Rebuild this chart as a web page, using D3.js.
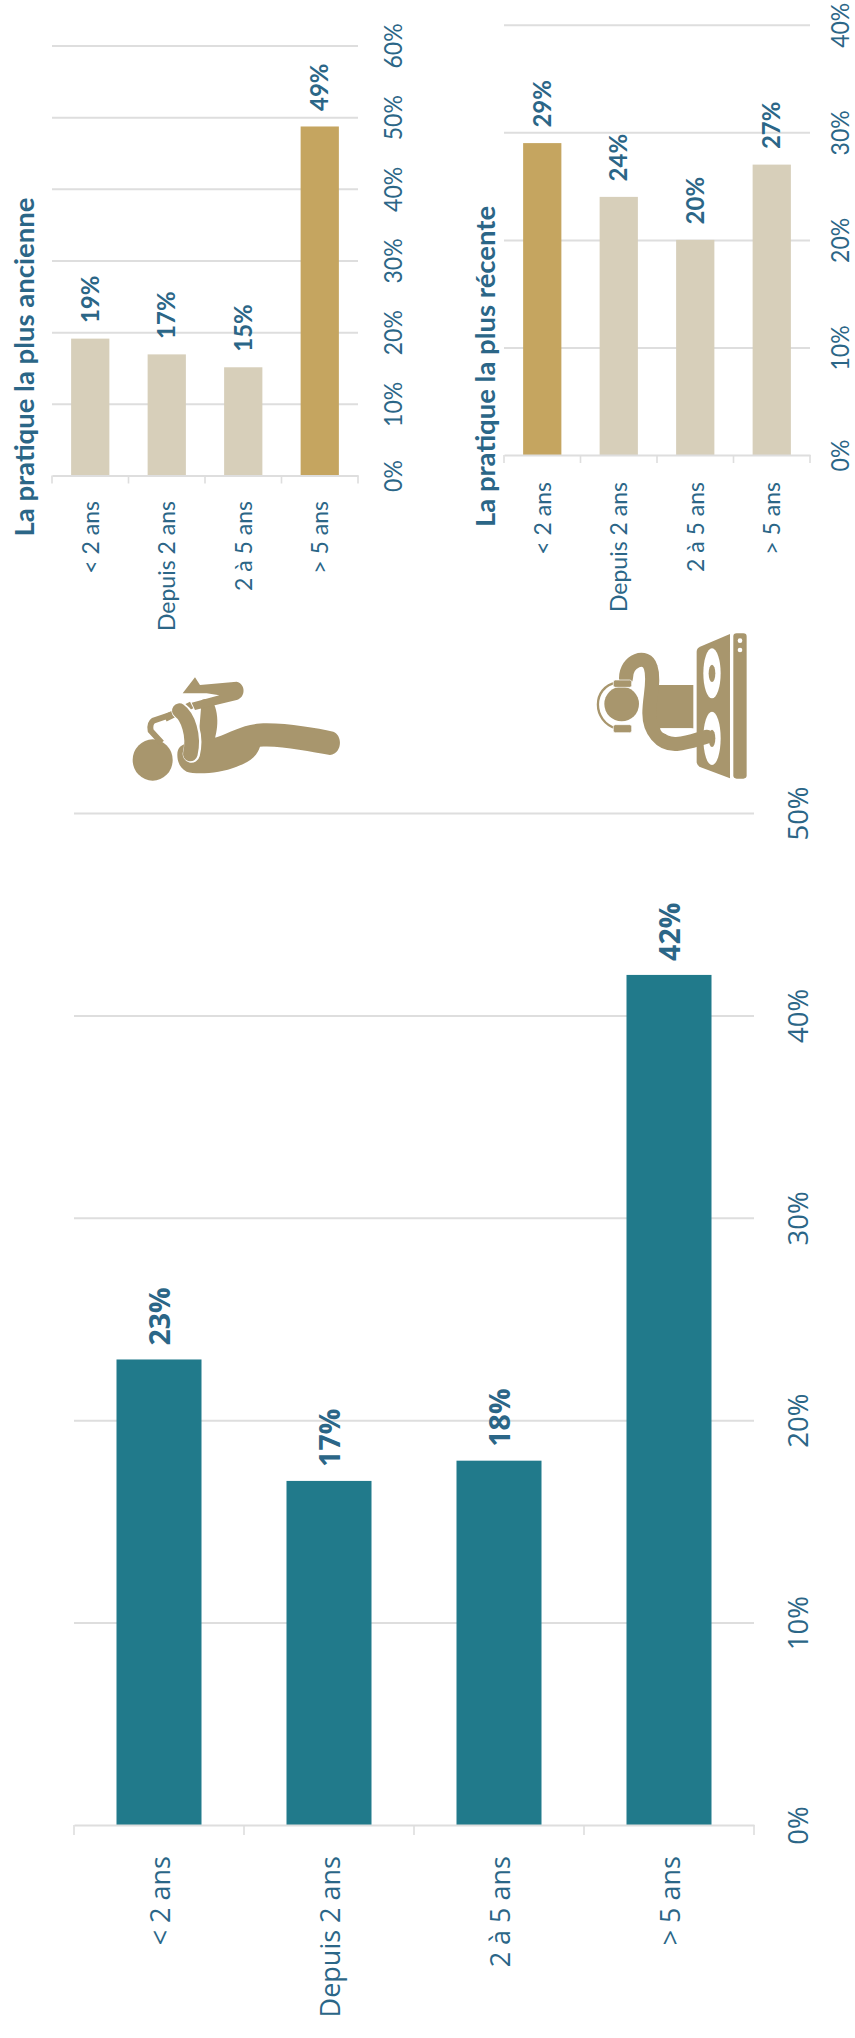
<!DOCTYPE html>
<html><head><meta charset="utf-8">
<script src="https://cdn.jsdelivr.net/npm/d3@7/dist/d3.min.js"></script>
<style>html,body{margin:0;padding:0;background:#fff}svg{display:block}</style>
</head><body>
<svg id="c" width="855" height="2038"></svg>
<script>
const categories = ["< 2 ans","Depuis 2 ans","2 à 5 ans","> 5 ans"];
const ancienneValues = [19.1,16.9,15.1,48.7];
const recenteValues = [29,24,20,27];
const globalValues = [23,17,18,42];
const ancienneTicks = [0,10,20,30,40,50,60];
const recenteTicks = [0,10,20,30,40];
const globalTicks = [0,10,20,30,40,50];
const titleAncienne = "La pratique la plus ancienne";
const titleRecente = "La pratique la plus récente";

const BLUE="#2B6687", GRID="#DEDEDE", BEIGE="#D7CFBA", GOLD="#C5A560", TEAL="#217A8B", ICON="#A8966D";
const svg=d3.select("#c");
const pct=d=>Math.round(d)+"%";

function chart(o){
  const x=d3.scaleBand().domain(categories).range([o.x0,o.x1]).paddingInner(0.5).paddingOuter(0.25);
  const y=d3.scaleLinear().domain([0,o.max]).range([o.y0,o.y1]);
  const g=svg.append("g");
  const ya=g.append("g").attr("transform",`translate(${o.x1},0)`)
    .call(d3.axisRight(y).tickValues(o.ticks).tickFormat(pct).tickSize(-(o.x1-o.x0)));
  ya.select(".domain").remove();
  ya.selectAll(".tick line").attr("stroke",GRID).attr("stroke-width",o.lw);
  ya.selectAll(".tick").filter(d=>d===0).select("line").remove();
  ya.selectAll(".tick text").attr("x",0).attr("dy",0).attr("y",0)
    .attr("text-anchor","middle").attr("fill",BLUE)
    .attr("font-family",o.font).attr("font-size",o.tickFs)
    .attr("transform",`translate(${o.tickBase-o.x1},0) rotate(-90) scale(${o.tickSx},1)`);
  g.selectAll("rect.bar").data(o.values).join("rect").attr("class","bar")
    .attr("x",(d,i)=>x(categories[i])).attr("width",x.bandwidth())
    .attr("y",d=>y(d)).attr("height",d=>y(0)-y(d))
    .attr("fill",(d,i)=>o.colors(i));
  const xa=g.append("g").attr("transform",`translate(0,${o.y0})`)
    .call(d3.axisBottom(x).tickSize(0).tickSizeOuter(0));
  xa.select(".domain").attr("stroke",GRID).attr("stroke-width",o.lw);
  xa.selectAll(".tick text").attr("x",0).attr("y",0).attr("dy",0)
    .attr("text-anchor","end").attr("fill",BLUE)
    .attr("font-family",o.font).attr("font-size",o.fs)
    .attr("transform",`translate(${o.catShift},${o.catY-o.y0}) rotate(-90)`);
  xa.selectAll("line.sep").data(d3.range(categories.length+1)).join("line").attr("class","sep")
    .attr("x1",i=>o.x0+i*x.step()).attr("x2",i=>o.x0+i*x.step())
    .attr("y1",0).attr("y2",o.tick).attr("stroke",GRID).attr("stroke-width",o.lw*0.8);
  g.selectAll("text.val").data(o.values).join("text").attr("class","val")
    .attr("transform",(d,i)=>`translate(${x(categories[i])+x.bandwidth()/2+o.catShift},${y(d)-o.gap}) rotate(-90)`)
    .attr("fill",BLUE).attr("font-family",o.font).attr("font-weight",700).attr("font-size",o.vfs)
    .text(pct);
  if(o.title) g.append("text").attr("transform",`translate(${o.titleX},${o.titleY}) rotate(-90)`)
    .attr("fill",BLUE).attr("font-family",o.font).attr("font-weight",700).attr("font-size",o.tfs).text(o.title);
}

chart({values:ancienneValues,ticks:ancienneTicks,max:60,x0:52,x1:358,y0:475.5,y1:45.5,
  colors:i=>i===3?GOLD:BEIGE,font:"Lato",fs:23,tickFs:25,tickSx:0.92,vfs:24,tfs:27.5,lw:2,tick:8,tickBase:402,catShift:8.5,catY:501,gap:15.5,
  title:titleAncienne,titleX:34,titleY:536.5});
chart({values:recenteValues,ticks:recenteTicks,max:40,x0:504,x1:810,y0:455,y1:24.8,
  colors:i=>i===0?GOLD:BEIGE,font:"Lato",fs:23,tickFs:25,tickSx:0.92,vfs:24,tfs:27.5,lw:2,tick:8,tickBase:849,catShift:8.5,catY:482,gap:15.5,
  title:titleRecente,titleX:494.5,titleY:527});
chart({values:globalValues,ticks:globalTicks,max:50,x0:74,x1:754,y0:1825,y1:813,
  colors:()=>TEAL,font:"'Open Sans'",fs:27,tickFs:27.5,tickSx:1,vfs:28.5,lw:2,tick:10,tickBase:808,catShift:11,catY:1856,gap:14});

// pictograms (decorative)
const i1=svg.append("g").attr("transform","translate(120,660) scale(0.3333)").attr("fill",ICON);
i1.append("ellipse").attr("cx",98).attr("cy",300).attr("rx",60).attr("ry",62);
i1.append("path").attr("d","M172 285C172 262 185 255 200 250L290 232C340 215 370 190 440 190C510 190 590 205 640 215C668 225 668 280 630 285C570 275 480 255 420 260C410 290 390 305 350 320C300 340 230 345 200 335C180 325 172 305 172 285Z");
i1.append("path").attr("d","M245 120C270 110 285 125 290 160C295 190 290 215 285 235L235 245Z");
i1.append("path").attr("d","M188 100L225 52L240 75L350 65C378 72 378 112 350 120L225 150L215 128L298 106L260 100Z");
i1.append("path").attr("d","M135 175L215 135").attr("stroke",ICON).attr("stroke-width",22).attr("fill","none");
i1.append("path").attr("d","M150 165L100 182Q88 190 92 212L125 248").attr("stroke",ICON).attr("stroke-width",18).attr("fill","none");
i1.append("path").attr("d","M180 152C205 170 228 225 214 282").attr("stroke","#fff").attr("stroke-width",52).attr("stroke-linecap","round").attr("fill","none");
i1.append("path").attr("d","M178 152C203 170 224 225 211 282").attr("stroke",ICON).attr("stroke-width",44).attr("stroke-linecap","round").attr("fill","none");

const i2=svg.append("g").attr("transform","translate(590,630) scale(0.3333)").attr("fill",ICON);
i2.append("path").attr("d","M320 65Q320 55 330 50L420 12V445L332 412Q320 405 320 395Z");
i2.append("rect").attr("x",430).attr("y",10).attr("width",40).attr("height",436).attr("rx",10);
i2.selectAll("circle.dot").data([32,60]).join("circle").attr("class","dot").attr("cx",450).attr("cy",d=>d).attr("r",7).attr("fill","#fff");
[[130,75],[325,80]].forEach(([cy,ry])=>{
  i2.append("ellipse").attr("cx",366).attr("cy",cy).attr("rx",26).attr("ry",ry).attr("fill","#fff");
  i2.append("ellipse").attr("cx",366).attr("cy",cy).attr("rx",10).attr("ry",26);
});
i2.append("rect").attr("x",180).attr("y",165).attr("width",130).attr("height",130);
i2.append("path").attr("d","M108 145C108 90 170 70 182 112C195 150 178 200 178 250C178 300 210 345 260 342C300 338 320 328 350 320")
  .attr("fill","none").attr("stroke",ICON).attr("stroke-width",42).attr("stroke-linecap","round");
i2.append("path").attr("d","M210 295C215 315 240 318 262 312L310 295Z").attr("fill","#fff");
i2.append("circle").attr("cx",95).attr("cy",222).attr("r",52);
i2.append("path").attr("d","M80 158C5 170 5 275 80 296").attr("fill","none").attr("stroke",ICON).attr("stroke-width",7);
i2.append("rect").attr("x",70).attr("y",150).attr("width",55).attr("height",22).attr("rx",6).attr("stroke","#fff").attr("stroke-width",2);
i2.append("rect").attr("x",70).attr("y",284).attr("width",55).attr("height",24).attr("rx",6).attr("stroke","#fff").attr("stroke-width",2);
</script>
</body></html>
